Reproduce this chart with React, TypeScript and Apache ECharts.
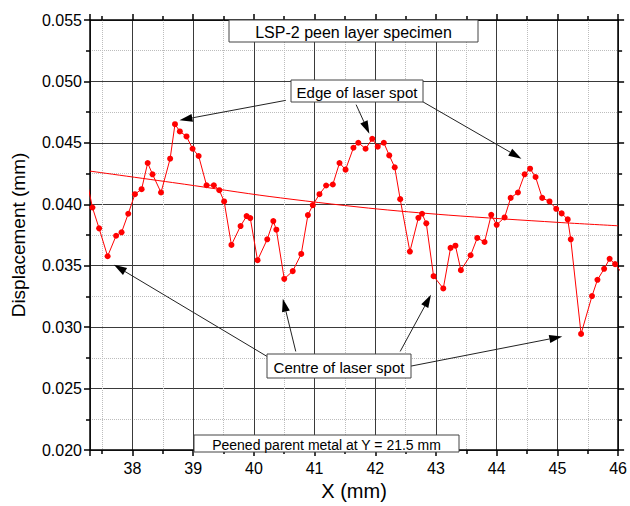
import React, { useEffect, useRef } from "react";
import * as echarts from "echarts";

const FONT = "'Liberation Sans', Arial, sans-serif";

// Measured displacement profile (X in mm, displacement in mm)
const xValues = [
  37.22, 37.34, 37.45, 37.59, 37.73, 37.82, 37.93, 38.04, 38.15, 38.25, 38.33,
  38.47, 38.62, 38.70, 38.78, 38.89, 38.99, 39.09, 39.22, 39.34, 39.43, 39.51,
  39.63, 39.78, 39.88, 39.94, 40.06, 40.22, 40.32, 40.37, 40.50, 40.64, 40.78,
  40.89, 40.97, 41.08, 41.19, 41.30, 41.41, 41.51, 41.64, 41.72, 41.84, 41.95,
  42.04, 42.14, 42.23, 42.32, 42.41, 42.57, 42.71, 42.77, 42.84, 42.96, 43.12,
  43.24, 43.32, 43.41, 43.57, 43.68, 43.80, 43.91, 44.00, 44.13, 44.23, 44.35,
  44.46, 44.55, 44.64, 44.75, 44.87, 44.98, 45.07, 45.17, 45.22, 45.39, 45.57,
  45.66, 45.77, 45.86, 45.95, 46.08,
];
const displacement = [
  0.0426, 0.03974, 0.03804, 0.03577, 0.03744, 0.03772, 0.03923, 0.04082,
  0.04123, 0.04336, 0.04244, 0.04096, 0.04371, 0.04652, 0.04593, 0.04552,
  0.04452, 0.04393, 0.04155, 0.04155, 0.04115, 0.04023, 0.03669, 0.03823,
  0.03904, 0.03888, 0.03545, 0.03715, 0.03863, 0.03793, 0.03393, 0.03456,
  0.03596, 0.03912, 0.03993, 0.04082, 0.04153, 0.04161, 0.04336, 0.04282,
  0.0446, 0.04501, 0.04452, 0.04533, 0.04469, 0.04501, 0.04398, 0.04301,
  0.04042, 0.03615, 0.0389, 0.03923, 0.03845, 0.03415, 0.03315, 0.03645,
  0.03663, 0.03464, 0.03585, 0.03726, 0.03693, 0.03914, 0.03833, 0.03893,
  0.04052, 0.04096, 0.04244, 0.0429, 0.04222, 0.04052, 0.04023, 0.03963,
  0.03926, 0.03877, 0.03715, 0.02945, 0.03253, 0.03385, 0.03475, 0.03556,
  0.03513, 0.0343,
];

// Trend (fit) curve
const fitX = [37.3, 38.86, 40.25, 41.89, 43.2, 45.0, 46.0];
const fitY = [0.0427, 0.04163, 0.04064, 0.03969, 0.03912, 0.03853, 0.03825];

// Axis settings
const xMin = 37.3;
const xMax = 46;
const yMin = 0.02;
const yMax = 0.055;
const yStep = 0.005;

// Annotation arrows in data coordinates: [x0, y0, x1 (tip), y1 (tip)]
const edgeArrows = [
  [40.526, 0.04846, 38.774, 0.04684],
  [41.684, 0.04811, 41.902, 0.04574],
  [42.77, 0.04838, 44.408, 0.04371],
];
const centreArrows = [
  [40.215, 0.02762, 37.693, 0.03507],
  [40.69, 0.02802, 40.477, 0.03231],
  [42.41, 0.02802, 42.917, 0.03264],
  [42.557, 0.0268, 45.08, 0.02924],
];

// Text boxes: [text, left, top, width, height, fontSize]
const boxes: [string, number, number, number, number, number][] = [
  ["LSP-2 peen layer specimen", 229, 20, 249, 22, 16],
  ["Edge of laser spot", 291, 80, 132, 22, 15],
  ["Centre of laser spot", 267, 354, 144, 24, 15],
  ["Peened parent metal at Y = 21.5 mm", 194, 435, 265, 17, 14],
];

export default function App() {
  const ref = useRef<HTMLDivElement>(null);

  useEffect(() => {
    if (!ref.current) return;
    document.body.style.margin = "0";
    const chart = echarts.init(ref.current, undefined, { renderer: "svg" });

    const isInt = (v: number) => Math.abs(v - Math.round(v)) < 1e-6;

    const axisCommon = {
      type: "value",
      axisLine: { show: true, onZero: false, lineStyle: { color: "#000", width: 1.5 } },
      axisTick: { show: true, inside: false, length: 6, lineStyle: { color: "#000", width: 1.5 } },
      minorTick: { show: true, splitNumber: 2, length: 4, lineStyle: { color: "#000", width: 1.5 } },
    };

    const option: any = {
      animation: false,
      backgroundColor: "#ffffff",
      grid: { left: 90, right: 9, top: 20, bottom: 54, containLabel: false },
      xAxis: [
        {
          ...axisCommon,
          position: "bottom",
          min: xMin,
          max: xMax,
          splitNumber: 8,
          name: "X (mm)",
          nameLocation: "middle",
          nameGap: 31,
          nameTextStyle: { fontSize: 20, color: "#000", fontFamily: FONT },
          axisLabel: {
            fontSize: 16,
            color: "#000",
            fontFamily: FONT,
            margin: 10,
            showMinLabel: false,
            formatter: (v: number) => (isInt(v) ? String(Math.round(v)) : ""),
          },
          splitLine: { show: true, lineStyle: { color: "#3a3a3a", width: 1 } },
          minorSplitLine: { show: true, lineStyle: { color: "#bdbdbd", type: "dotted", width: 1 } },
        },
        {
          ...axisCommon,
          position: "top",
          min: xMin,
          max: xMax,
          splitNumber: 8,
          axisLabel: { show: false },
          splitLine: { show: false },
          minorSplitLine: { show: false },
        },
      ],
      yAxis: [
        {
          ...axisCommon,
          position: "left",
          min: yMin,
          max: yMax,
          interval: yStep,
          name: "Displacement (mm)",
          nameLocation: "middle",
          nameGap: 62,
          nameTextStyle: { fontSize: 19, color: "#000", fontFamily: FONT },
          axisLabel: {
            fontSize: 16,
            color: "#000",
            fontFamily: FONT,
            margin: 8,
            formatter: (v: number) => v.toFixed(3),
          },
          splitLine: { show: true, lineStyle: { color: "#3a3a3a", width: 1 } },
          minorSplitLine: { show: true, lineStyle: { color: "#bdbdbd", type: "dotted", width: 1 } },
        },
        {
          ...axisCommon,
          position: "right",
          min: yMin,
          max: yMax,
          interval: yStep,
          axisLabel: { show: false },
          splitLine: { show: false },
          minorSplitLine: { show: false },
        },
      ],
      series: [
        {
          type: "line",
          name: "fit",
          xAxisIndex: 0,
          yAxisIndex: 0,
          data: fitX.map((x, i) => [x, fitY[i]]),
          smooth: 0.3,
          showSymbol: false,
          symbol: "none",
          lineStyle: { color: "#ff0000", width: 1 },
          silent: true,
          z: 3,
        },
        {
          type: "line",
          name: "displacement",
          xAxisIndex: 0,
          yAxisIndex: 0,
          data: xValues.map((x, i) => [x, displacement[i]]),
          symbol: "circle",
          symbolSize: 6,
          clip: true,
          itemStyle: { color: "#ff0000" },
          lineStyle: { color: "#ff0000", width: 1 },
          silent: true,
          z: 4,
        },
      ],
    };

    chart.setOption(option);

    // Build annotation graphics
    const graphics: any[] = [];
    const arrows = [...edgeArrows, ...centreArrows];
    arrows.forEach((a) => {
      const p0 = chart.convertToPixel({ gridIndex: 0 }, [a[0], a[1]]) as number[];
      const p1 = chart.convertToPixel({ gridIndex: 0 }, [a[2], a[3]]) as number[];
      const dx = p1[0] - p0[0];
      const dy = p1[1] - p0[1];
      const len = Math.sqrt(dx * dx + dy * dy);
      const ux = dx / len;
      const uy = dy / len;
      const headLen = 13;
      const headW = 4;
      const bx = p1[0] - ux * headLen;
      const by = p1[1] - uy * headLen;
      graphics.push({
        type: "line",
        shape: { x1: p0[0], y1: p0[1], x2: bx, y2: by },
        style: { stroke: "#222", lineWidth: 1 },
        z: 100,
      });
      graphics.push({
        type: "polygon",
        shape: {
          points: [
            [p1[0], p1[1]],
            [bx - uy * headW, by + ux * headW],
            [bx + uy * headW, by - ux * headW],
          ],
        },
        style: { fill: "#000" },
        z: 100,
      });
    });
    boxes.forEach(([text, left, top, w, h, fs]) => {
      graphics.push({
        type: "rect",
        shape: { x: left, y: top, width: w, height: h },
        style: { fill: "#fff", stroke: "#444", lineWidth: 1 },
        z: 101,
      });
      graphics.push({
        type: "text",
        x: left + w / 2,
        y: top + h / 2 + 1,
        style: {
          text,
          fill: "#000",
          font: `${fs}px ${FONT}`,
          align: "center",
          verticalAlign: "middle",
        },
        z: 102,
      });
    });
    chart.setOption({ graphic: graphics });

    return () => chart.dispose();
  }, []);

  return <div ref={ref} style={{ width: 630, height: 506 }} />;
}
